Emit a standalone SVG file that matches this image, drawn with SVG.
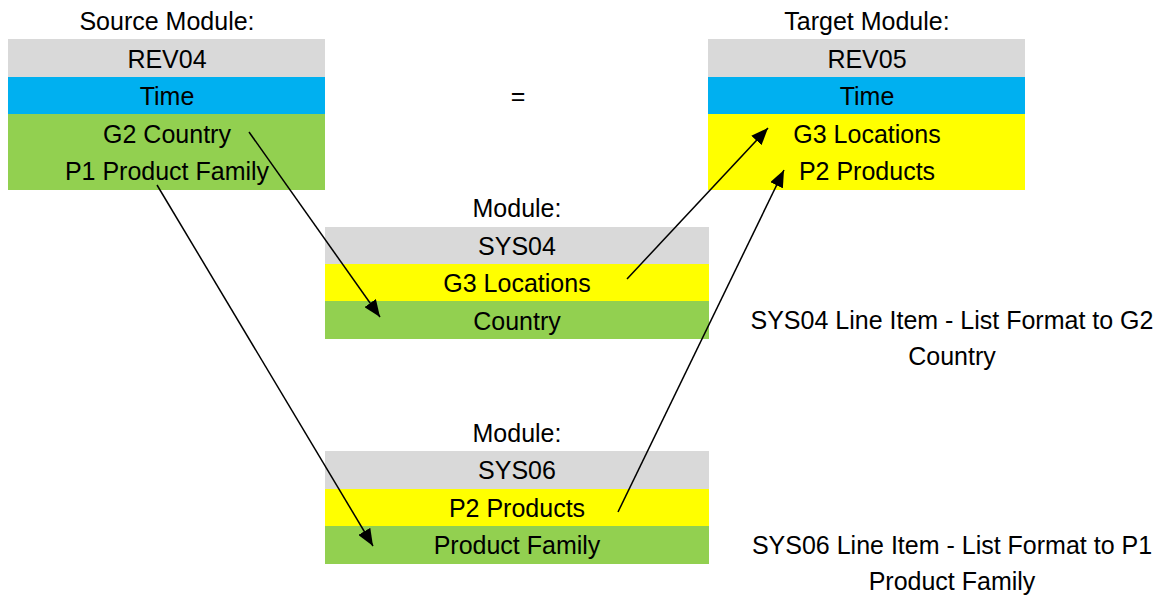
<svg xmlns="http://www.w3.org/2000/svg" width="1166" height="595" viewBox="0 0 1166 595">
<style>
text{font-family:"Liberation Sans",Arial,sans-serif;font-size:25px;fill:#000;text-anchor:middle}
.g{fill:#D9D9D9}.b{fill:#00B0F0}.gr{fill:#92D050}.y{fill:#FFFF00}
.c{stroke:#000;stroke-width:1.5;fill:none;marker-end:url(#ah)}
</style>
<defs>
<marker id="ah" markerUnits="userSpaceOnUse" markerWidth="18" markerHeight="14" refX="17" refY="7" orient="auto" viewBox="0 0 18 14">
<path d="M0,0 L17,7 L0,14 Z" fill="#000"/>
</marker>
</defs>
<rect width="1166" height="595" fill="#fff"/>
<g id="source">
<text x="167" y="30">Source Module:</text>
<rect class="g" x="8" y="39" width="317" height="38"/>
<rect class="b" x="8" y="77" width="317" height="37"/>
<rect class="gr" x="8" y="114" width="317" height="76"/>
<text x="167" y="68">REV04</text>
<text x="167" y="105">Time</text>
<text x="167" y="143">G2 Country</text>
<text x="167" y="180">P1 Product Family</text>
</g>
<g id="equals"><text x="518" y="105">=</text></g>
<g id="target">
<text x="867" y="30">Target Module:</text>
<rect class="g" x="708" y="39" width="317" height="38"/>
<rect class="b" x="708" y="77" width="317" height="37"/>
<rect class="y" x="708" y="114" width="317" height="76"/>
<text x="867" y="68">REV05</text>
<text x="867" y="105">Time</text>
<text x="867" y="143">G3 Locations</text>
<text x="867" y="180">P2 Products</text>
</g>
<g id="sys04">
<text x="517" y="217">Module:</text>
<rect class="g" x="325" y="227" width="384" height="37"/>
<rect class="y" x="325" y="264" width="384" height="37"/>
<rect class="gr" x="325" y="301" width="384" height="38"/>
<text x="517" y="255">SYS04</text>
<text x="517" y="292">G3 Locations</text>
<text x="517" y="330">Country</text>
</g>
<g id="sys06">
<text x="517" y="442">Module:</text>
<rect class="g" x="325" y="451" width="384" height="38"/>
<rect class="y" x="325" y="489" width="384" height="37"/>
<rect class="gr" x="325" y="526" width="384" height="38"/>
<text x="517" y="479">SYS06</text>
<text x="517" y="517">P2 Products</text>
<text x="517" y="554">Product Family</text>
</g>
<g id="note1">
<text x="952" y="329">SYS04 Line Item - List Format to G2</text>
<text x="952" y="365">Country</text>
</g>
<g id="note2">
<text x="952" y="554">SYS06 Line Item - List Format to P1</text>
<text x="952" y="590">Product Family</text>
</g>
<g id="connectors">
<line class="c" x1="249" y1="132" x2="380" y2="317"/>
<line class="c" x1="157" y1="185" x2="373" y2="546"/>
<line class="c" x1="627" y1="279" x2="768" y2="128"/>
<line class="c" x1="618" y1="512" x2="784" y2="170"/>
</g>
</svg>
